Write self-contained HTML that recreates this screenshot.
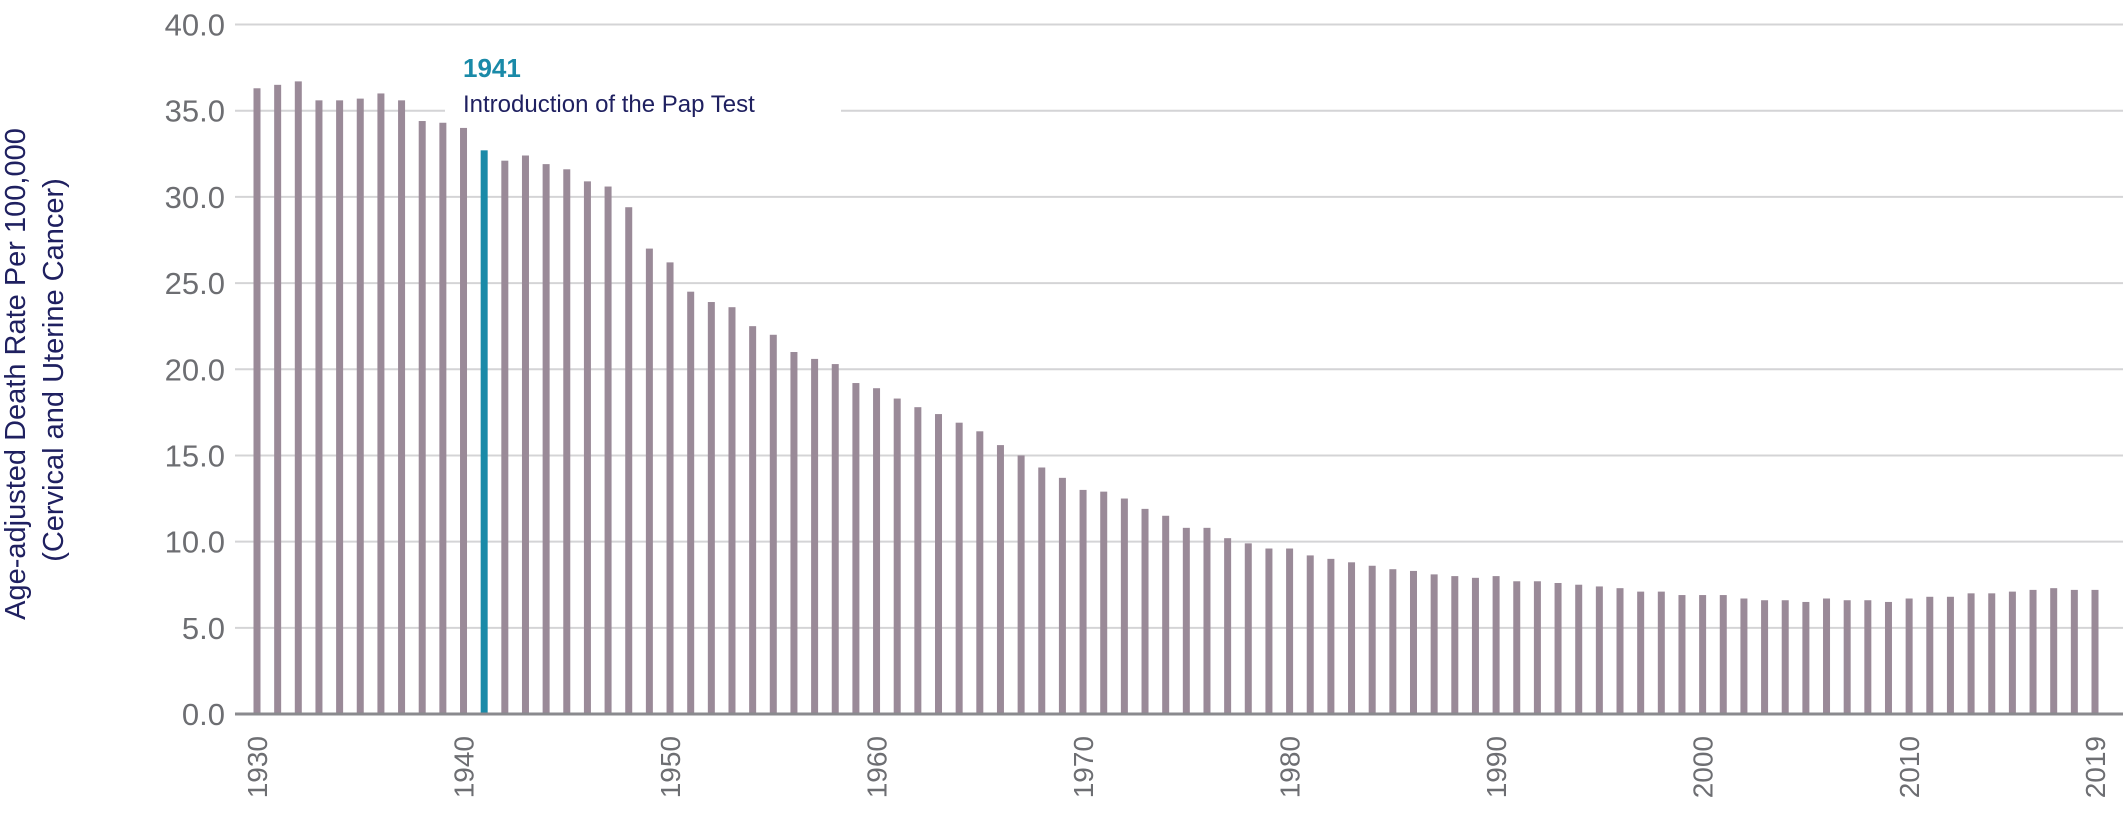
<!DOCTYPE html>
<html><head><meta charset="utf-8"><style>
html,body{margin:0;padding:0;background:#fff;}
svg{display:block;font-family:"Liberation Sans",sans-serif;}
</style></head><body>
<svg id="chart" width="2123" height="815" viewBox="0 0 2123 815" xmlns="http://www.w3.org/2000/svg">
<g id="grid"></g>
<g id="yticks"></g>
<g id="bars"></g>
<g id="xticks"></g>
<line x1="235" x2="2123" y1="714" y2="714" stroke="#8a8a8e" stroke-width="3"/>
<rect x="445" y="98" width="396" height="24" fill="#fff"/>
<text x="463" y="77" font-size="26" font-weight="bold" fill="#1a8aa8">1941</text>
<text x="463" y="112" font-size="24" fill="#1f2060">Introduction of the Pap Test</text>
<text transform="translate(0,370) rotate(-90)" text-anchor="middle" font-size="29" fill="#1f2060">
<tspan x="0" y="25">Age-adjusted Death Rate Per 100,000</tspan>
<tspan x="0" y="63">(Cervical and Uterine Cancer)</tspan>
</text>
</svg>
<script>
const years = [];
for (let y = 1930; y <= 2019; y++) years.push(y);
const rates = [36.3,36.5,36.7,35.6,35.6,35.7,36.0,35.6,34.4,34.3,34.0,32.7,32.1,32.4,31.9,31.6,30.9,30.6,29.4,27.0,
26.2,24.5,23.9,23.6,22.5,22.0,21.0,20.6,20.3,19.2,18.9,18.3,17.8,17.4,16.9,16.4,15.6,15.0,14.3,13.7,
13.0,12.9,12.5,11.9,11.5,10.8,10.8,10.2,9.9,9.6,9.6,9.2,9.0,8.8,8.6,8.4,8.3,8.1,8.0,7.9,
8.0,7.7,7.7,7.6,7.5,7.4,7.3,7.1,7.1,6.9,6.9,6.9,6.7,6.6,6.6,6.5,6.7,6.6,6.6,6.5,
6.7,6.8,6.8,7.0,7.0,7.1,7.2,7.3,7.2,7.2];
const yTicks = [0,5,10,15,20,25,30,35,40];
const xLabels = [1930,1940,1950,1960,1970,1980,1990,2000,2010,2019];
const highlightYear = 1941;

const NS = "http://www.w3.org/2000/svg";
const y0px = 714, y40px = 24.5;
function yScale(v){ return y0px - v * (y0px - y40px) / 40; }
function xScale(yr){ return 257 + (yr - 1930) * (2095 - 257) / 89; }
function mk(tag, attrs, parent){
  const e = document.createElementNS(NS, tag);
  for (const k in attrs) e.setAttribute(k, attrs[k]);
  parent.appendChild(e); return e;
}
const grid = document.getElementById('grid');
const yt = document.getElementById('yticks');
yTicks.forEach(v => {
  if (v === 0) return;
  const l = mk('line', {x1:235, x2:2123, y1:yScale(v), y2:yScale(v), stroke:'#d4d4d6', 'stroke-width':2}, grid);
  
  
});
yTicks.forEach(v => {
  const t = mk('text', {x:225, y:yScale(v)+11, 'text-anchor':'end', 'font-size':31, fill:'#6d6e72'}, yt);
  t.textContent = v.toFixed(1);
  
  
});
const bars = document.getElementById('bars');
years.forEach((yr, i) => {
  const top = yScale(rates[i]);
  const r = mk('rect', {x:xScale(yr)-3.5, y:top, width:7, height:y0px-top, fill: yr === highlightYear ? '#1a8aa8' : '#9a8a98'}, bars);
  
  
});
const xt = document.getElementById('xticks');
xLabels.forEach(yr => {
  const x = xScale(yr) + 10;
  const t = mk('text', {x:0, y:0, transform:'translate(' + x + ',736) rotate(-90)', 'text-anchor':'end', 'font-size':28, fill:'#6d6e72'}, xt);
  t.textContent = yr;
  
  
});
</script>
</body></html>
